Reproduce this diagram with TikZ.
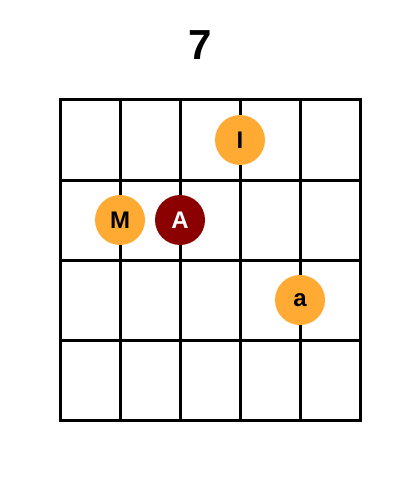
\documentclass[tikz,border=0pt]{standalone}
\usepackage{fontspec}
\setmainfont{Liberation Sans}
\definecolor{fingerorange}{HTML}{FFAA33}
\definecolor{fingerred}{HTML}{8B0000}
\begin{document}
\begin{tikzpicture}[x=1pt,y=-1pt,
  gridline/.style={line width=3pt,line cap=rect},
  finger/.style={circle,minimum size=50pt,inner sep=0pt,font=\fontsize{24}{24}\selectfont\bfseries},
  light/.style={finger,fill=fingerorange,text=black},
  dark/.style={finger,fill=fingerred,text=white}]
\useasboundingbox (0,0) rectangle (400,500);
\node[font=\fontsize{42}{42}\selectfont\bfseries] (title) at (200,45) {7};
\foreach \x in {60,120,180,240,300,360} \draw[gridline] (\x,100) -- (\x,420);
\foreach \y in {100,180,260,340,420} \draw[gridline] (60,\y) -- (360,\y);
\node[light] (I) at (240,140) {I};
\node[light] (M) at (120,220) {M};
\node[dark] (A) at (180,220) {A};
\node[light] (a) at (300,300) {a};
\end{tikzpicture}
\end{document}
